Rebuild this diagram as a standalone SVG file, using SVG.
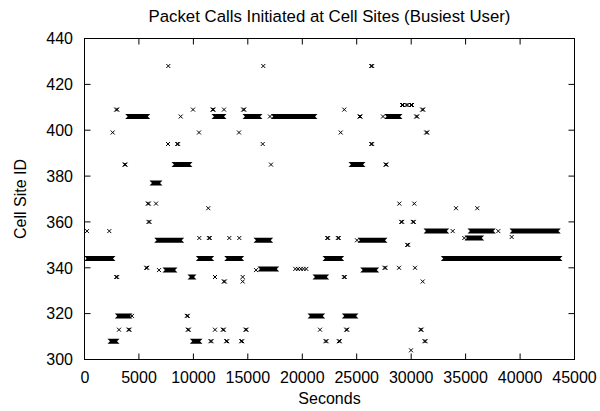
<svg xmlns="http://www.w3.org/2000/svg" xmlns:xlink="http://www.w3.org/1999/xlink" width="600" height="411" viewBox="0 0 600 411">
<style>
text{font-family:"Liberation Sans",Arial,sans-serif;font-size:16px;fill:#000}
.t{font-size:16.8px}
.ax{fill:none;stroke:#000;stroke-width:1}
.m{fill:none;stroke:#000;stroke-width:1}
.bar{fill:#000;stroke:none}
</style>
<defs>
<path id="c" class="m" d="M-2,-2L2,2M-2,2L2,-2"/>
<path id="b" class="m" d="M-2.5,-2L1.5,2M-2.5,2L1.5,-2M-1.5,-2L2.5,2M-1.5,2L2.5,-2"/>
</defs>
<rect width="600" height="411" fill="#fff"/>
<g id="title"><text class="t" x="329.5" y="21.5" text-anchor="middle">Packet Calls Initiated at Cell Sites (Busiest User)</text></g>
<g id="axes">
<rect class="ax" x="84.5" y="38.5" width="490" height="321"/>
<path class="ax" d="M138.9,359.5v-6M193.4,359.5v-6M247.8,359.5v-6M302.3,359.5v-6M356.7,359.5v-6M411.2,359.5v-6M465.6,359.5v-6M520.1,359.5v-6M138.9,38.5v6M193.4,38.5v6M247.8,38.5v6M302.3,38.5v6M356.7,38.5v6M411.2,38.5v6M465.6,38.5v6M520.1,38.5v6M84.5,313.6h6M84.5,267.8h6M84.5,221.9h6M84.5,176.1h6M84.5,130.2h6M84.5,84.4h6M574.5,313.6h-6M574.5,267.8h-6M574.5,221.9h-6M574.5,176.1h-6M574.5,130.2h-6M574.5,84.4h-6"/>
<g text-anchor="end">
<text x="73" y="365.2">300</text>
<text x="73" y="319.3">320</text>
<text x="73" y="273.5">340</text>
<text x="73" y="227.6">360</text>
<text x="73" y="181.8">380</text>
<text x="73" y="135.9">400</text>
<text x="73" y="90.1">420</text>
<text x="73" y="44.2">440</text>
</g>
<g text-anchor="middle">
<text x="85" y="382.5">0</text>
<text x="139" y="382.5">5000</text>
<text x="193.4" y="382.5">10000</text>
<text x="247.8" y="382.5">15000</text>
<text x="302.3" y="382.5">20000</text>
<text x="356.7" y="382.5">25000</text>
<text x="411.2" y="382.5">30000</text>
<text x="465.6" y="382.5">35000</text>
<text x="520.1" y="382.5">40000</text>
<text x="574.5" y="382.5">45000</text>
<text x="329.5" y="404">Seconds</text>
<text transform="translate(25.7,199) rotate(-90)">Cell Site ID</text>
</g>
</g>
<g id="points">
<g id="bars" class="bar">
<polygon points="125.2,114 150.2,114 147.7,116.5 150.2,119 125.2,119 127.7,116.5"/>
<polygon points="171.5,162.1 192.5,162.1 190,164.6 192.5,167.1 171.5,167.1 174,164.6"/>
<polygon points="149.5,180.4 162.5,180.4 160,182.9 162.5,185.4 149.5,185.4 152,182.9"/>
<polygon points="211.5,114 226.5,114 224,116.5 226.5,119 211.5,119 214,116.5"/>
<polygon points="242.5,114 262.5,114 260,116.5 262.5,119 242.5,119 245,116.5"/>
<polygon points="270.8,114 317.5,114 315,116.5 317.5,119 270.8,119 273.3,116.5"/>
<polygon points="348.5,162.1 365.5,162.1 363,164.6 365.5,167.1 348.5,167.1 351,164.6"/>
<polygon points="384.2,114 402.5,114 400,116.5 402.5,119 384.2,119 386.7,116.5"/>
<polygon points="154.2,237.8 184.2,237.8 181.7,240.3 184.2,242.8 154.2,242.8 156.7,240.3"/>
<polygon points="84.5,256.1 115.5,256.1 113,258.6 115.5,261.1 84.5,261.1 86.5,258.6"/>
<polygon points="195.8,256.1 214.2,256.1 211.7,258.6 214.2,261.1 195.8,261.1 198.3,258.6"/>
<polygon points="224.2,256.1 244.2,256.1 241.7,258.6 244.2,261.1 224.2,261.1 226.7,258.6"/>
<polygon points="162.5,267.6 177.5,267.6 175,270.1 177.5,272.6 162.5,272.6 165,270.1"/>
<polygon points="187.5,274.5 196.5,274.5 194,277 196.5,279.5 187.5,279.5 190,277"/>
<polygon points="114.8,313.4 132.5,313.4 130,315.9 132.5,318.4 114.8,318.4 117.3,315.9"/>
<polygon points="107.5,338.7 119.5,338.7 117,341.2 119.5,343.7 107.5,343.7 110,341.2"/>
<polygon points="189.8,338.7 202.5,338.7 200,341.2 202.5,343.7 189.8,343.7 192.3,341.2"/>
<polygon points="253.5,237.8 273.2,237.8 270.7,240.3 273.2,242.8 253.5,242.8 256,240.3"/>
<polygon points="357.5,237.8 387.5,237.8 385,240.3 387.5,242.8 357.5,242.8 360,240.3"/>
<polygon points="322.5,256.1 344.2,256.1 341.7,258.6 344.2,261.1 322.5,261.1 325,258.6"/>
<polygon points="257.5,266.4 279.2,266.4 276.7,268.9 279.2,271.4 257.5,271.4 260,268.9"/>
<polygon points="312.5,274.5 329.2,274.5 326.7,277 329.2,279.5 312.5,279.5 315,277"/>
<polygon points="360.2,267.6 379.2,267.6 376.7,270.1 379.2,272.6 360.2,272.6 362.7,270.1"/>
<polygon points="307.5,313.4 325.2,313.4 322.7,315.9 325.2,318.4 307.5,318.4 310,315.9"/>
<polygon points="341.8,313.4 358.5,313.4 356,315.9 358.5,318.4 341.8,318.4 344.3,315.9"/>
<polygon points="423.5,228.6 449.2,228.6 446.7,231.1 449.2,233.6 423.5,233.6 426,231.1"/>
<polygon points="467.5,228.6 495.8,228.6 493.3,231.1 495.8,233.6 467.5,233.6 470,231.1"/>
<polygon points="509.5,228.6 560.8,228.6 558.3,231.1 560.8,233.6 509.5,233.6 512,231.1"/>
<polygon points="464.5,235.5 484.2,235.5 481.7,238 484.2,240.5 464.5,240.5 467,238"/>
<polygon points="440.8,256.1 562.5,256.1 560,258.6 562.5,261.1 440.8,261.1 443.3,258.6"/>
</g>
<g id="crosses">
<use xlink:href="#c" x="168.3" y="66"/>
<use xlink:href="#c" x="263.3" y="66"/>
<use xlink:href="#c" x="112.7" y="132.5"/>
<use xlink:href="#c" x="168" y="144"/>
<use xlink:href="#c" x="180.7" y="116.5"/>
<use xlink:href="#c" x="193" y="109.6"/>
<use xlink:href="#c" x="199" y="132.5"/>
<use xlink:href="#c" x="224" y="109.6"/>
<use xlink:href="#c" x="239" y="132.5"/>
<use xlink:href="#c" x="270" y="116.5"/>
<use xlink:href="#c" x="262.7" y="144"/>
<use xlink:href="#c" x="271" y="164.6"/>
<use xlink:href="#c" x="344.3" y="109.6"/>
<use xlink:href="#c" x="340.7" y="132.5"/>
<use xlink:href="#c" x="383" y="116.5"/>
<use xlink:href="#c" x="156" y="203.6"/>
<use xlink:href="#c" x="208.3" y="208.2"/>
<use xlink:href="#c" x="87" y="231.1"/>
<use xlink:href="#c" x="109.3" y="231.1"/>
<use xlink:href="#c" x="199.3" y="238"/>
<use xlink:href="#c" x="229.3" y="238"/>
<use xlink:href="#c" x="239.3" y="238"/>
<use xlink:href="#c" x="159" y="270.1"/>
<use xlink:href="#c" x="215" y="277"/>
<use xlink:href="#c" x="242.7" y="277"/>
<use xlink:href="#c" x="242.7" y="281.5"/>
<use xlink:href="#c" x="132" y="315.9"/>
<use xlink:href="#c" x="119" y="329.7"/>
<use xlink:href="#c" x="215" y="329.7"/>
<use xlink:href="#c" x="399.3" y="203.6"/>
<use xlink:href="#c" x="414.3" y="203.6"/>
<use xlink:href="#c" x="357" y="240.3"/>
<use xlink:href="#c" x="256" y="270.1"/>
<use xlink:href="#c" x="399" y="267.8"/>
<use xlink:href="#c" x="415" y="267.8"/>
<use xlink:href="#c" x="422.7" y="281.5"/>
<use xlink:href="#c" x="320" y="329.7"/>
<use xlink:href="#c" x="411" y="350.3"/>
<use xlink:href="#c" x="456" y="208.2"/>
<use xlink:href="#c" x="477.3" y="208.2"/>
<use xlink:href="#c" x="452.7" y="231.1"/>
<use xlink:href="#c" x="498.3" y="231.1"/>
<use xlink:href="#c" x="511.7" y="237"/>
<use xlink:href="#c" x="464.3" y="238"/>
<use xlink:href="#c" x="295.3" y="268.9"/>
<use xlink:href="#c" x="298" y="268.9"/>
<use xlink:href="#c" x="300.8" y="268.9"/>
<use xlink:href="#c" x="303.5" y="268.9"/>
<use xlink:href="#c" x="306.3" y="268.9"/>
</g>
<g id="bold">
<use xlink:href="#b" x="116.7" y="109.6"/>
<use xlink:href="#b" x="125" y="164.6"/>
<use xlink:href="#b" x="177.7" y="144"/>
<use xlink:href="#b" x="213" y="109.6"/>
<use xlink:href="#b" x="243.7" y="109.6"/>
<use xlink:href="#b" x="371.7" y="66"/>
<use xlink:href="#b" x="360" y="116.5"/>
<use xlink:href="#b" x="371.7" y="144"/>
<use xlink:href="#b" x="386" y="164.6"/>
<use xlink:href="#b" x="422.7" y="109.6"/>
<use xlink:href="#b" x="416.7" y="116.5"/>
<use xlink:href="#b" x="426.7" y="132.5"/>
<use xlink:href="#b" x="402.5" y="105"/>
<use xlink:href="#b" x="407" y="105"/>
<use xlink:href="#b" x="411.5" y="105"/>
<use xlink:href="#b" x="148.3" y="203.6"/>
<use xlink:href="#b" x="149" y="221.9"/>
<use xlink:href="#b" x="209.3" y="238"/>
<use xlink:href="#b" x="146.7" y="267.8"/>
<use xlink:href="#b" x="116.7" y="277"/>
<use xlink:href="#b" x="224.3" y="281.5"/>
<use xlink:href="#b" x="187.3" y="315.9"/>
<use xlink:href="#b" x="129" y="329.7"/>
<use xlink:href="#b" x="188.3" y="329.7"/>
<use xlink:href="#b" x="223.3" y="329.7"/>
<use xlink:href="#b" x="246" y="329.7"/>
<use xlink:href="#b" x="211" y="341.2"/>
<use xlink:href="#b" x="226.7" y="341.2"/>
<use xlink:href="#b" x="241.7" y="341.2"/>
<use xlink:href="#b" x="401.7" y="221.9"/>
<use xlink:href="#b" x="413.3" y="221.9"/>
<use xlink:href="#b" x="327.7" y="238"/>
<use xlink:href="#b" x="338.3" y="238"/>
<use xlink:href="#b" x="407.7" y="244.9"/>
<use xlink:href="#b" x="344.3" y="277"/>
<use xlink:href="#b" x="385" y="267.8"/>
<use xlink:href="#b" x="346.7" y="329.7"/>
<use xlink:href="#b" x="421" y="329.7"/>
<use xlink:href="#b" x="326" y="341.2"/>
<use xlink:href="#b" x="339.3" y="341.2"/>
<use xlink:href="#b" x="425" y="341.2"/>
</g>
</g>
</svg>
